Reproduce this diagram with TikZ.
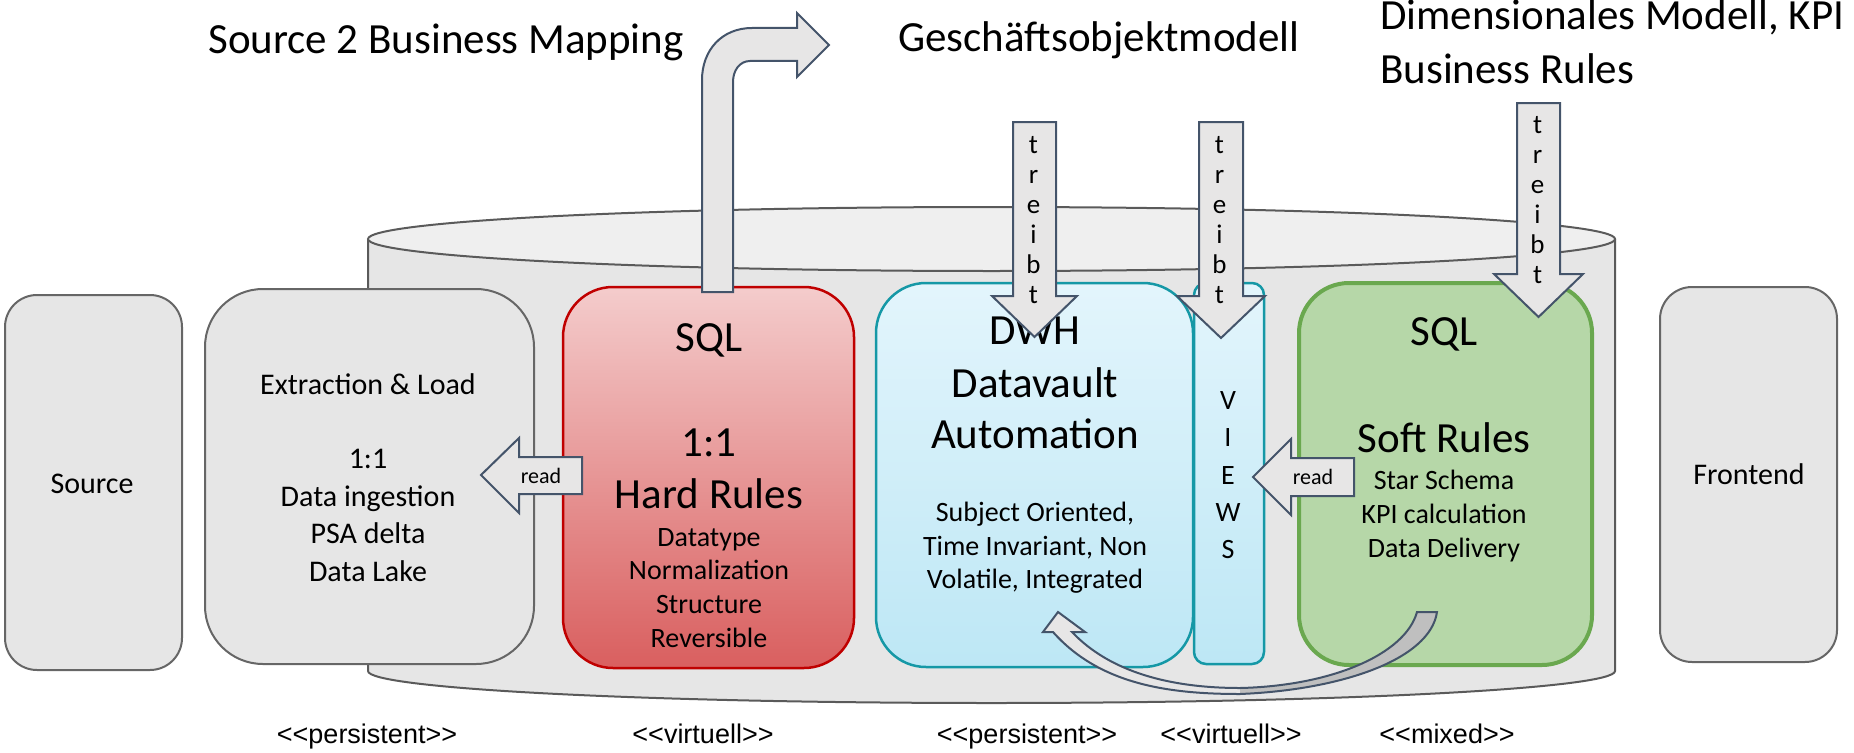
\documentclass[tikz,border=0pt]{standalone}
\usepackage{fontspec}
\setmainfont{Carlito}
\newfontfamily\arialf{Liberation Sans}
\newcommand\fsz[1]{\fontsize{#1}{#1}\selectfont}
\definecolor{boxfill}{HTML}{E6E6E6}
\definecolor{boxline}{HTML}{666666}
\definecolor{cylside}{HTML}{E6E6E6}
\definecolor{cyltop}{HTML}{EFEFEF}
\definecolor{cylline}{HTML}{5A5A5A}
\definecolor{redtop}{HTML}{F4CCCC}
\definecolor{redbot}{HTML}{D95F5F}
\definecolor{redline}{HTML}{C00000}
\definecolor{bluetop}{HTML}{E3F5FC}
\definecolor{bluebot}{HTML}{BDE7F5}
\definecolor{blueline}{HTML}{1598A6}
\definecolor{greenfill}{HTML}{B6D7A8}
\definecolor{greenline}{HTML}{6AA84F}
\definecolor{arrfill}{HTML}{E7E6E6}
\definecolor{arrline}{HTML}{44546A}
\definecolor{darkband}{HTML}{BFBFBF}
\begin{document}
\begin{tikzpicture}[x=1pt,y=-1pt,
  graybox/.style={draw=boxline, fill=boxfill, line width=2pt, inner sep=0pt},
  redbox/.style={draw=redline, top color=redtop, bottom color=redbot, line width=2.5pt, inner sep=0pt, rounded corners=50pt},
  bluebox/.style={draw=blueline, top color=bluetop, bottom color=bluebot, line width=2.5pt, inner sep=0pt},
  greenbox/.style={draw=greenline, fill=greenfill, line width=4pt, inner sep=0pt, rounded corners=50pt},
  blockarrow/.style={draw=arrline, fill=arrfill, line width=2pt, line join=miter},
  txt/.style={anchor=base, inner sep=0pt},
  big/.style={txt, font=\fsz{43}},
  mid/.style={txt, font=\fsz{30}},
  small/.style={txt, font=\fsz{28}},
  letter/.style={txt, font=\fsz{27}},
  readtxt/.style={txt, font=\fsz{22}},
  stereo/.style={txt, font=\arialf\fsz{27}}]
\useasboundingbox (0,0) rectangle (1854,752);

% cylinder
\fill[cylside] (368,239) rectangle (1615,671);
\fill[cylside] (991.5,671) ellipse [x radius=623.5, y radius=32];
\draw[cylline, line width=2pt] (368,239) -- (368,671)
  .. controls (368,688.7) and (647.1,703) .. (991.5,703)
  .. controls (1335.9,703) and (1615,688.7) .. (1615,671) -- (1615,239);
\draw[cylline, fill=cyltop, line width=2pt] (991.5,239) ellipse [x radius=623.5, y radius=32];

% boxes
\node[graybox, rounded corners=32pt, minimum width=177pt, minimum height=375pt] (source) at (93.5,482.5) {};
\node[graybox, rounded corners=58pt, minimum width=329pt, minimum height=375pt] (extract) at (369.5,476.5) {};
\node[redbox, minimum width=291pt, minimum height=381pt] (hard) at (708.5,477.5) {};
\node[bluebox, rounded corners=12pt, minimum width=70pt, minimum height=381pt] (views) at (1229,473.5) {};
\node[bluebox, rounded corners=50pt, minimum width=317pt, minimum height=384pt] (dwh) at (1034.5,475) {};
\node[greenbox, minimum width=293pt, minimum height=382pt] (soft) at (1445.5,474) {};
\node[graybox, rounded corners=32pt, minimum width=177pt, minimum height=375pt] (front) at (1748.5,474.5) {};

% headers
\node[big] (h1) at (446,53) {Source 2 Business Mapping};
\node[big] (h2) at (1099,52) {Geschäftsobjektmodell};
\node[big, anchor=base west] (h3) at (1380,30) {Dimensionales Modell, KPI};
\node[big, anchor=base west] (h4) at (1380,83) {Business Rules};

% source / frontend
\node[mid] (tsource) at (92,493) {Source};
\node[mid] (tfront) at (1749,484) {Frontend};

% extraction
\node[mid] (e1) at (368,394) {Extraction \& Load};
\node[mid] (e2) at (368,468) {1:1};
\node[mid] (e3) at (368,506) {Data ingestion};
\node[mid] (e4) at (368,543) {PSA delta};
\node[mid] (e5) at (368,581) {Data Lake};

% hard rules
\node[big] (r1) at (709,351) {SQL};
\node[big] (r2) at (709,456) {1:1};
\node[big] (r3) at (709,508) {Hard Rules};
\node[small] (r4) at (709,546) {Datatype};
\node[small] (r5) at (709,579) {Normalization};
\node[small] (r6) at (709,613) {Structure};
\node[small] (r7) at (709,647) {Reversible};

% dwh
\node[big] (d1) at (1035,344) {DWH};
\node[big] (d2) at (1035,397) {Datavault};
\node[big] (d3) at (1035,448) {Automation};
\node[small] (d4) at (1035,521) {Subject Oriented,};
\node[small] (d5) at (1035,555) {Time Invariant, Non};
\node[small] (d6) at (1035,588) {Volatile, Integrated};

% views
\foreach \l/\yy [count=\i] in {V/409,I/446,E/484,W/521,S/558}
  \node[small] (v\i) at (1228,\yy) {\l};

% soft rules
\node[big] (s1) at (1444,345) {SQL};
\node[big] (s2) at (1444,452) {Soft Rules};
\node[small] (s3) at (1444,489) {Star Schema};
\node[small] (s4) at (1444,523) {KPI calculation};
\node[small] (s5) at (1444,557) {Data Delivery};

% stereotypes
\node[stereo] (p1) at (367,743) {<{}<persistent>{}>};
\node[stereo] (p2) at (703,743) {<{}<virtuell>{}>};
\node[stereo] (p3) at (1027,743) {<{}<persistent>{}>};
\node[stereo] (p4) at (1231,743) {<{}<virtuell>{}>};
\node[stereo] (p5) at (1447,743) {<{}<mixed>{}>};

% turn arrow (Source 2 Business Mapping)
\draw[blockarrow] (702,292) -- (702,80) .. controls (702,50) and (722,28) .. (752,28)
  -- (797,28) -- (797,13) -- (829,45) -- (797,77) -- (797,61) -- (750,61)
  .. controls (740,61) and (733,70) .. (733,82) -- (733,292) -- cycle;

% treibt arrows
\draw[blockarrow] (1013,122) -- (1056,122) -- (1056,296) -- (1077,296) -- (1034.5,337)
  -- (992,296) -- (1013,296) -- cycle;
\draw[blockarrow] (1199,122) -- (1243,122) -- (1243,296) -- (1265,296) -- (1221,338)
  -- (1177,296) -- (1199,296) -- cycle;
\draw[blockarrow] (1517,103) -- (1560,103) -- (1560,274) -- (1583,274) -- (1538.5,317)
  -- (1494,274) -- (1517,274) -- cycle;
\foreach \l [count=\i] in {t,r,e,i,b,t} {
  \node[letter] (ta\i) at (1033.5,123+30*\i) {\l};
  \node[letter] (tb\i) at (1219.5,123+30*\i) {\l};
  \node[letter] (tc\i) at (1537.5,103+30*\i) {\l};
}

% read arrows
\draw[blockarrow] (481,475) -- (519,438) -- (519,457) -- (582,457) -- (582,494) -- (519,494) -- (519,513) -- cycle;
\node[readtxt] (read1) at (541,483) {read};
\draw[blockarrow] (1253,477) -- (1291,439) -- (1291,458) -- (1354,458) -- (1354,496) -- (1291,496) -- (1291,515) -- cycle;
\node[readtxt] (read2) at (1313,484) {read};

% curved arrow
\fill[arrfill] (1058,612) -- (1043,632) -- (1053,632) .. controls (1100,685) and (1170,694) .. (1240,694)
  .. controls (1340,690) and (1430,660) .. (1437,612) -- (1417,612)
  .. controls (1405,655) and (1330,686) .. (1240,688)
  .. controls (1170,688) and (1110,672) .. (1072,632) -- (1085,632) -- cycle;
\fill[darkband] (1240,694) .. controls (1340,690) and (1430,660) .. (1437,612) -- (1417,612)
  .. controls (1405,655) and (1330,686) .. (1240,688) -- cycle;
\draw[arrline, line width=2pt, line join=miter] (1058,612) -- (1043,632) -- (1053,632) .. controls (1100,685) and (1170,694) .. (1240,694)
  .. controls (1340,690) and (1430,660) .. (1437,612) -- (1417,612)
  .. controls (1405,655) and (1330,686) .. (1240,688)
  .. controls (1170,688) and (1110,672) .. (1072,632) -- (1085,632) -- cycle;
\end{tikzpicture}
\end{document}
